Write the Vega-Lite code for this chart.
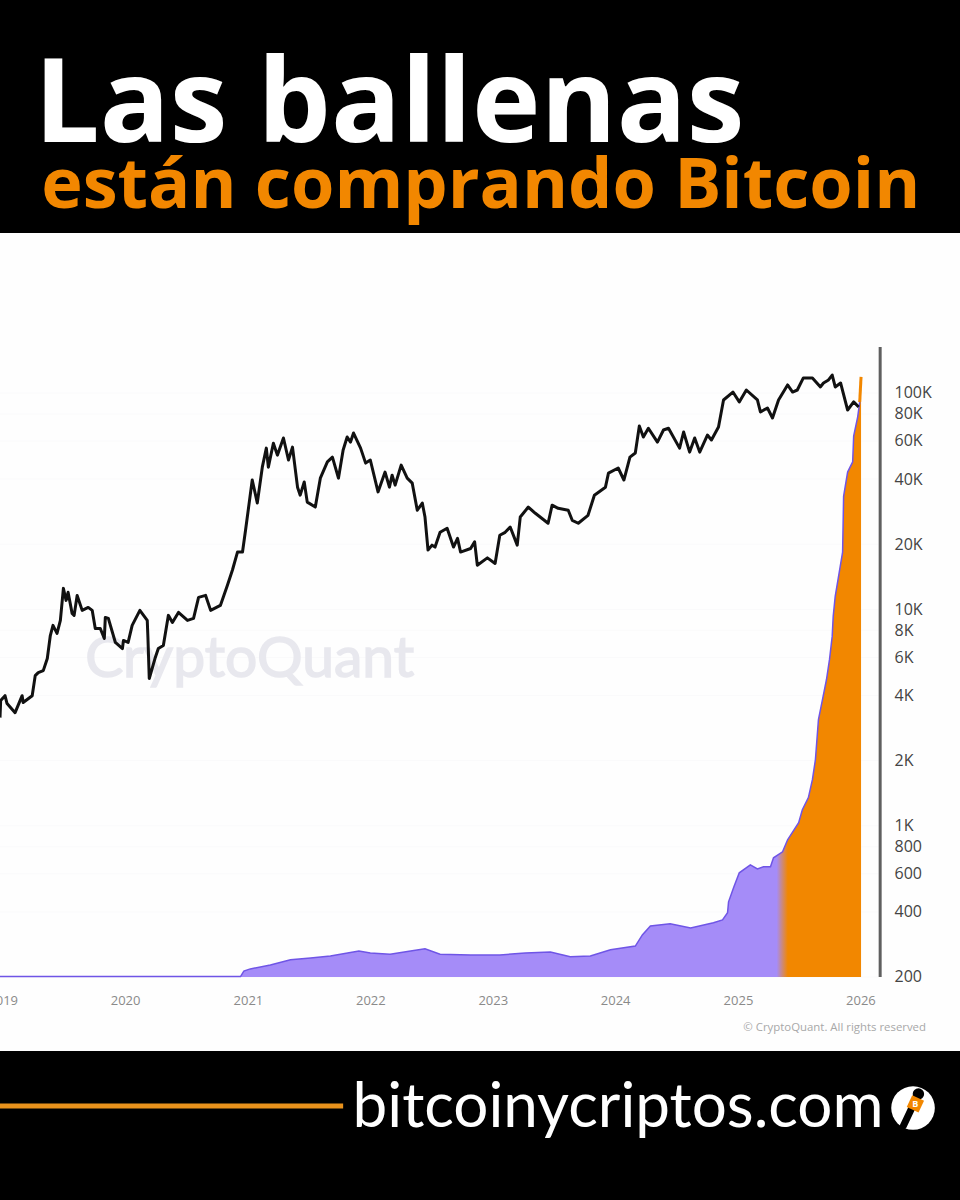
{"$schema":"https://vega.github.io/schema/vega-lite/v6.json","width":960,"height":1200,"autosize":{"type":"none"},"padding":0,"background":"#000000","config":{"view":{"stroke":null}},
"datasets":{
"price":[
{"date":"2018-12-24","value":3160},{"date":"2018-12-26","value":3790},{"date":"2019-01-08","value":3990},{"date":"2019-01-14","value":3670},{"date":"2019-02-07","value":3330},{"date":"2019-02-28","value":3990},{"date":"2019-03-03","value":3710},{"date":"2019-03-30","value":3990},{"date":"2019-04-08","value":4940},{"date":"2019-04-17","value":5100},{"date":"2019-05-02","value":5210},{"date":"2019-05-14","value":5925},{"date":"2019-05-23","value":7570},{"date":"2019-05-31","value":8430},{"date":"2019-06-12","value":7740},{"date":"2019-06-22","value":8890},{"date":"2019-07-01","value":12500},{"date":"2019-07-09","value":11000},{"date":"2019-07-15","value":11990},{"date":"2019-07-27","value":9580},{"date":"2019-08-02","value":9380},{"date":"2019-08-11","value":11600},{"date":"2019-08-26","value":9890},{"date":"2019-09-13","value":10210},{"date":"2019-09-25","value":9890},{"date":"2019-10-04","value":8160},{"date":"2019-10-19","value":8160},{"date":"2019-10-31","value":7330},{"date":"2019-11-03","value":9180},{"date":"2019-11-12","value":9080},{"date":"2019-12-03","value":7030},{"date":"2019-12-24","value":6590},{"date":"2019-12-27","value":7180},
{"date":"2020-01-10","value":7030},{"date":"2020-01-22","value":8430},{"date":"2020-02-14","value":9890},{"date":"2020-03-07","value":8890},{"date":"2020-03-09","value":7410},{"date":"2020-03-13","value":4790},{"date":"2020-03-30","value":5925},{"date":"2020-04-09","value":6590},{"date":"2020-04-24","value":6805},{"date":"2020-05-09","value":9380},{"date":"2020-05-21","value":8700},{"date":"2020-06-08","value":9680},{"date":"2020-07-05","value":8890},{"date":"2020-07-23","value":9080},{"date":"2020-08-07","value":11360},{"date":"2020-08-28","value":11600},{"date":"2020-09-12","value":9890},{"date":"2020-10-11","value":10430},{"date":"2020-11-01","value":12930},{"date":"2020-11-16","value":15200},{"date":"2020-12-01","value":18400},{"date":"2020-12-16","value":18400},{"date":"2020-12-25","value":23200},
{"date":"2021-01-14","value":39600},{"date":"2021-01-29","value":31000},{"date":"2021-02-13","value":45400},{"date":"2021-02-25","value":55600},{"date":"2021-03-03","value":45400},{"date":"2021-03-18","value":58600},{"date":"2021-03-30","value":51600},{"date":"2021-04-17","value":61900},{"date":"2021-05-02","value":49000},{"date":"2021-05-14","value":56200},{"date":"2021-05-29","value":36700},{"date":"2021-06-06","value":33700},{"date":"2021-06-18","value":38800},{"date":"2021-06-27","value":31300},{"date":"2021-07-21","value":29700},{"date":"2021-08-05","value":40400},{"date":"2021-08-26","value":48000},{"date":"2021-09-10","value":50500},{"date":"2021-09-28","value":40400},{"date":"2021-10-12","value":54500},{"date":"2021-10-24","value":62600},{"date":"2021-11-03","value":59300},{"date":"2021-11-12","value":65300},{"date":"2021-12-03","value":55600},{"date":"2021-12-18","value":47400},
{"date":"2022-01-01","value":49000},{"date":"2022-01-24","value":34900},{"date":"2022-02-14","value":43100},{"date":"2022-02-27","value":36700},{"date":"2022-03-07","value":41700},{"date":"2022-03-16","value":37500},{"date":"2022-04-03","value":46400},{"date":"2022-04-21","value":40400},{"date":"2022-05-06","value":38300},{"date":"2022-05-21","value":28700},{"date":"2022-06-05","value":31000},{"date":"2022-06-13","value":26700},{"date":"2022-06-22","value":18800},{"date":"2022-07-04","value":19800},{"date":"2022-07-13","value":19400},{"date":"2022-07-28","value":22700},{"date":"2022-08-18","value":23700},{"date":"2022-09-06","value":19400},{"date":"2022-09-18","value":21300},{"date":"2022-09-27","value":18400},{"date":"2022-10-27","value":19100},{"date":"2022-11-08","value":20500},{"date":"2022-11-16","value":16000},{"date":"2022-12-16","value":17300},
{"date":"2023-01-08","value":16300},{"date":"2023-01-22","value":22000},{"date":"2023-02-07","value":22700},{"date":"2023-02-22","value":24000},{"date":"2023-03-15","value":19800},{"date":"2023-03-24","value":26700},{"date":"2023-04-17","value":29700},{"date":"2023-05-08","value":27800},{"date":"2023-06-15","value":25000},{"date":"2023-06-27","value":30300},{"date":"2023-07-15","value":29300},{"date":"2023-08-14","value":28700},{"date":"2023-08-26","value":25800},{"date":"2023-09-13","value":25000},{"date":"2023-10-12","value":27200},{"date":"2023-10-31","value":33700},{"date":"2023-12-03","value":36700},{"date":"2023-12-12","value":42600},
{"date":"2024-01-10","value":45000},{"date":"2024-01-27","value":39600},{"date":"2024-02-14","value":50500},{"date":"2024-03-01","value":52800},{"date":"2024-03-13","value":70300},{"date":"2024-03-25","value":62600},{"date":"2024-04-09","value":68700},{"date":"2024-05-06","value":59300},{"date":"2024-05-24","value":67400},{"date":"2024-06-08","value":68700},{"date":"2024-07-11","value":55600},{"date":"2024-07-23","value":66000},{"date":"2024-08-10","value":53300},{"date":"2024-08-25","value":61900},{"date":"2024-09-09","value":53300},{"date":"2024-10-02","value":63900},{"date":"2024-10-14","value":60600},{"date":"2024-11-04","value":69600},{"date":"2024-11-19","value":92800},{"date":"2024-12-17","value":101000},
{"date":"2025-01-05","value":90900},{"date":"2025-01-26","value":103200},{"date":"2025-02-28","value":92800},{"date":"2025-03-09","value":81700},{"date":"2025-03-30","value":85200},{"date":"2025-04-14","value":76600},{"date":"2025-05-02","value":92800},{"date":"2025-05-29","value":108900},{"date":"2025-06-13","value":101000},{"date":"2025-06-27","value":103200},{"date":"2025-07-15","value":117400},{"date":"2025-08-11","value":117400},{"date":"2025-09-04","value":106600},{"date":"2025-09-13","value":111200},{"date":"2025-09-28","value":114900},{"date":"2025-10-09","value":121000},{"date":"2025-10-18","value":106600},{"date":"2025-11-03","value":111200},{"date":"2025-11-24","value":83400},{"date":"2025-12-12","value":90900},{"date":"2025-12-27","value":86100}],
"whales":[
{"date":"2018-12-24","value":201},{"date":"2020-12-10","value":201},{"date":"2020-12-20","value":213},{"date":"2021-01-08","value":218},{"date":"2021-03-09","value":227},{"date":"2021-05-08","value":240},{"date":"2021-07-07","value":245},{"date":"2021-09-04","value":250},{"date":"2021-11-28","value":264},{"date":"2022-01-01","value":258},{"date":"2022-03-01","value":255},{"date":"2022-05-01","value":264},{"date":"2022-06-13","value":270},{"date":"2022-07-28","value":255},{"date":"2022-10-27","value":253},{"date":"2023-01-22","value":253},{"date":"2023-04-08","value":258},{"date":"2023-06-22","value":261},{"date":"2023-08-20","value":248},{"date":"2023-10-19","value":250},{"date":"2023-12-18","value":267},{"date":"2024-03-01","value":278},{"date":"2024-03-22","value":313},{"date":"2024-04-15","value":344},{"date":"2024-06-13","value":352},{"date":"2024-08-13","value":337},{"date":"2024-10-20","value":356},{"date":"2024-11-16","value":367},{"date":"2024-12-01","value":396},{"date":"2024-12-04","value":445},{"date":"2024-12-20","value":522},{"date":"2025-01-05","value":606},{"date":"2025-02-07","value":660},{"date":"2025-02-28","value":632},{"date":"2025-03-18","value":646},{"date":"2025-04-08","value":646},{"date":"2025-04-17","value":711},{"date":"2025-05-14","value":758},{"date":"2025-05-29","value":861},{"date":"2025-07-01","value":1033},{"date":"2025-07-12","value":1186},{"date":"2025-07-30","value":1349},{"date":"2025-08-11","value":1633},{"date":"2025-08-20","value":2022},{"date":"2025-08-29","value":3097},{"date":"2025-09-10","value":3830},{"date":"2025-09-22","value":4740},{"date":"2025-10-01","value":5870},{"date":"2025-10-09","value":7500},{"date":"2025-10-12","value":9290},{"date":"2025-10-18","value":11490},{"date":"2025-11-09","value":18370},{"date":"2025-11-12","value":33300},{"date":"2025-11-24","value":43100},{"date":"2025-12-09","value":48000},{"date":"2025-12-12","value":63200},{"date":"2025-12-24","value":77600},{"date":"2025-12-30","value":90800},{"date":"2026-01-03","value":118600}],
"grid":[{"date":"2018-12-24","date2":"2026-02-24","value":200},{"date":"2018-12-24","date2":"2026-02-24","value":400},{"date":"2018-12-24","date2":"2026-02-24","value":600},{"date":"2018-12-24","date2":"2026-02-24","value":800},{"date":"2018-12-24","date2":"2026-02-24","value":1000},{"date":"2018-12-24","date2":"2026-02-24","value":2000},{"date":"2018-12-24","date2":"2026-02-24","value":4000},{"date":"2018-12-24","date2":"2026-02-24","value":6000},{"date":"2018-12-24","date2":"2026-02-24","value":8000},{"date":"2018-12-24","date2":"2026-02-24","value":10000},{"date":"2018-12-24","date2":"2026-02-24","value":20000},{"date":"2018-12-24","date2":"2026-02-24","value":40000},{"date":"2018-12-24","date2":"2026-02-24","value":60000},{"date":"2018-12-24","date2":"2026-02-24","value":80000},{"date":"2018-12-24","date2":"2026-02-24","value":100000}]
},
"encoding":{
"x":{"field":"date","type":"temporal","title":null,"scale":{"domain":["2018-12-24","2026-10-25"],"nice":false},"axis":{"values":["2019-01-01","2020-01-01","2021-01-01","2022-01-01","2023-01-01","2024-01-01","2025-01-01","2026-01-01"],"format":"%Y","orient":"bottom","offset":-206,"domain":false,"ticks":false,"grid":false,"labelPadding":0,"labelColor":"#8a8a8a","labelFont":"Open Sans","labelFontSize":13,"labelOverlap":false,"labelBound":false,"labelFlush":false,"zindex":1}},
"y":{"field":"value","type":"quantitative","title":null,"stack":null,"scale":{"type":"log","domain":[18.64,6546000],"nice":false,"zero":false},"axis":{"values":[200,400,600,800,1000,2000,4000,6000,8000,10000,20000,40000,60000,80000,100000],"labelExpr":"datum.value>=1000?(datum.value/1000)+'K':datum.value","orient":"right","offset":-66,"domain":false,"ticks":false,"grid":false,"labelPadding":0,"labelColor":"#444444","labelFont":"Open Sans","labelFontSize":16,"labelOverlap":false,"labelBound":false,"labelFlush":false,"zindex":1}}
},
"layer":[
{"data":{"values":[{"date":"2018-12-24","date2":"2026-10-25","value":548800,"value2":91}]},"mark":{"type":"rect","fill":"#fefefe"},"encoding":{"x2":{"field":"date2"},"y2":{"field":"value2"}}},
{"data":{"name":"grid"},"mark":{"type":"rule","stroke":"#fafafb","strokeWidth":1},"encoding":{"x2":{"field":"date2"}}},
{"data":{"values":[{"date":"2019-09-04","value":4875,"text":"CryptoQuant"}]},"mark":{"type":"text","align":"left","baseline":"alphabetic","font":"Lato","fontSize":57,"fill":"#e8e8ee","stroke":"#e8e8ee","strokeWidth":1.5},"encoding":{"text":{"field":"text"}}},
{"data":{"name":"whales"},"mark":{"type":"area","line":false,"fill":{"gradient":"linear","x1":0,"y1":0,"x2":1,"y2":0,"stops":[{"offset":0,"color":"#a58cf8"},{"offset":0.902,"color":"#a58cf8"},{"offset":0.915,"color":"#f28700"},{"offset":1,"color":"#f28700"}]}},"encoding":{"y2":{"datum":200}}},
{"data":{"name":"whales"},"transform":[{"filter":"datum.value<100000"}],"mark":{"type":"line","stroke":"#6f55e6","strokeWidth":1.5}},
{"data":{"name":"price"},"mark":{"type":"line","stroke":"#111111","strokeWidth":3,"strokeJoin":"round"}},
{"data":{"values":[{"date":"2025-12-30","value":90800},{"date":"2026-01-03","value":118600}]},"mark":{"type":"line","stroke":"#f28700","strokeWidth":3}},
{"data":{"values":[{"date":"2026-03-01","value":163100,"value2":200}]},"mark":{"type":"rule","stroke":"#5f5f5f","strokeWidth":3},"encoding":{"y2":{"field":"value2"}}},
{"data":{"values":[{"date":"2025-01-17","value":112.7,"text":"© CryptoQuant. All rights reserved"}]},"mark":{"type":"text","align":"left","baseline":"alphabetic","font":"Open Sans","fontSize":11.4,"fill":"#a8a8a8"},"encoding":{"text":{"field":"text"}}},
{"data":{"values":[{"date":"2019-04-05","value":1446000,"text":"Las ballenas"}]},"mark":{"type":"text","align":"left","baseline":"alphabetic","font":"Open Sans","fontWeight":"bold","fontSize":116,"fill":"#ffffff"},"encoding":{"text":{"field":"text"}}},
{"data":{"values":[{"date":"2019-04-26","value":716000,"text":"están comprando Bitcoin"}]},"mark":{"type":"text","align":"left","baseline":"alphabetic","font":"Open Sans","fontWeight":"bold","fontSize":70.2,"fill":"#f28700"},"encoding":{"text":{"field":"text"}}},
{"data":{"values":[{"date":"2021-11-09","value":40.6,"text":"bitcoinycriptos.com"}]},"mark":{"type":"text","align":"left","baseline":"alphabetic","font":"Lato","fontSize":62,"fill":"#ffffff"},"encoding":{"text":{"field":"text"}}},
{"data":{"values":[{"date":"2018-12-24","date2":"2021-10-12","value":50.7}]},"mark":{"type":"rule","stroke":"#e8921c","strokeWidth":5},"encoding":{"x2":{"field":"date2"}}},
{"data":{"values":[{"date":"2026-06-07","value":49.6}]},"mark":{"type":"point","shape":"circle","filled":true,"fill":"#ffffff","opacity":1,"size":1900,"strokeWidth":0}},
{"data":{"values":[{"date":"2026-05-09","value":41.0},{"date":"2026-06-23","value":57.6}]},"mark":{"type":"line","stroke":"#000000","strokeWidth":7,"strokeCap":"round"}},
{"data":{"values":[{"date":"2026-06-23","value":57.6}]},"mark":{"type":"point","shape":"circle","filled":true,"fill":"#000000","opacity":1,"size":130,"strokeWidth":0}},
{"data":{"values":[{"date":"2026-06-14","value":51.8}]},"mark":{"type":"point","shape":"square","filled":true,"fill":"#f28700","opacity":1,"size":170,"strokeWidth":0,"angle":25}},
{"data":{"values":[{"date":"2026-06-14","value":51.8,"text":"B"}]},"mark":{"type":"text","align":"center","baseline":"middle","font":"Open Sans","fontWeight":"bold","fontSize":9,"fill":"#ffffff"},"encoding":{"text":{"field":"text"}}}
]}
